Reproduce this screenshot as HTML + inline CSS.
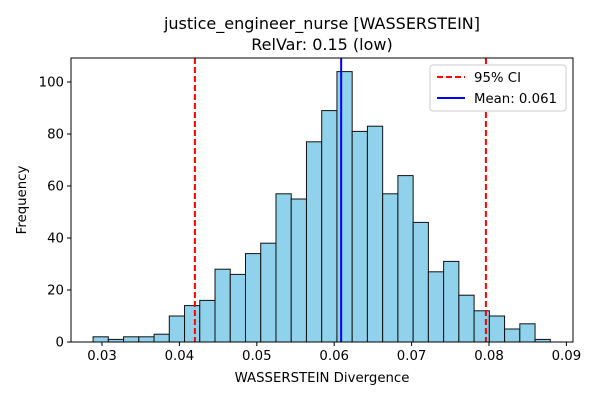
<!DOCTYPE html>
<html><head><meta charset="utf-8"><style>body{margin:0;background:#fff}svg{display:block;font-family:"DejaVu Sans","Liberation Sans",sans-serif}</style></head>
<body>
<svg id="c" width="600" height="400"></svg>
<script>
const counts=[2,1,2,2,3,10,14,16,28,26,34,38,57,55,77,89,104,81,83,57,64,46,27,31,18,12,10,5,7,1];
const binStart=0.02885, binWidth=0.001969;
const xTicks=[0.03,0.04,0.05,0.06,0.07,0.08,0.09];
const yTicks=[0,20,40,60,80,100];
const ciLow=0.0420, ciHigh=0.0796, meanVal=0.0609;
const L=71,R=573,T=58,B=342;
const x=v=>102+(v-0.03)*7740;
const y=v=>342-v*2.6;
const s=document.getElementById('c');const NS='http://www.w3.org/2000/svg';
function mk(t,a,p){const e=document.createElementNS(NS,t);for(const k in a)e.setAttribute(k,a[k]);(p||s).appendChild(e);return e;}
const t1=mk('text',{x:322,y:29,'text-anchor':'middle','font-size':16});t1.textContent='justice_engineer_nurse [WASSERSTEIN]';


const t2=mk('text',{x:322,y:50,'text-anchor':'middle','font-size':16});t2.textContent='RelVar: 0.15 (low)';


counts.forEach((c,i)=>{const x0=x(binStart+i*binWidth),x1=x(binStart+(i+1)*binWidth);
const r=mk('rect',{x:x0,y:y(c),width:x1-x0,height:B-y(c),fill:'#90d2eb',stroke:'#111','stroke-width':1});

});
[[ciLow,'red','6,3','ci-low-line'],[ciHigh,'red','6,3','ci-high-line'],[meanVal,'blue','','mean-line']].forEach(([v,c,d,n])=>{
const l=mk('line',{x1:x(v),x2:x(v),y1:T,y2:B,stroke:c,'stroke-width':2,'stroke-dasharray':d});

});
const fr=mk('rect',{x:L,y:T,width:R-L,height:B-T,fill:'none',stroke:'#000','stroke-width':1});


xTicks.forEach(v=>{mk('line',{x1:x(v),x2:x(v),y1:B,y2:B+4,stroke:'#000'});const t=mk('text',{x:x(v),y:B+18,'text-anchor':'middle','font-size':13.3});t.textContent=v.toFixed(2);

});
yTicks.forEach(v=>{mk('line',{x1:L-4,x2:L,y1:y(v),y2:y(v),stroke:'#000'});const t=mk('text',{x:L-7,y:y(v)+4.5,'text-anchor':'end','font-size':13.3});t.textContent=v;

});
const xl=mk('text',{x:322,y:382,'text-anchor':'middle','font-size':13.3});xl.textContent='WASSERSTEIN Divergence';


const yl=mk('text',{x:26,y:200,'text-anchor':'middle','font-size':13.3,transform:'rotate(-90 26 200)'});yl.textContent='Frequency';


const g=mk('g',{});


mk('rect',{x:430,y:65,width:136,height:46,fill:'#fff',stroke:'#ccc',rx:3},g);
mk('line',{x1:437,x2:465,y1:77,y2:77,stroke:'red','stroke-width':2,'stroke-dasharray':'6,3'},g);
mk('line',{x1:437,x2:465,y1:98,y2:98,stroke:'blue','stroke-width':2},g);
const a=mk('text',{x:474,y:82,'font-size':13.3},g);a.textContent='95% CI';


const b=mk('text',{x:474,y:103,'font-size':13.3},g);b.textContent='Mean: 0.061';


</script>
</body></html>
